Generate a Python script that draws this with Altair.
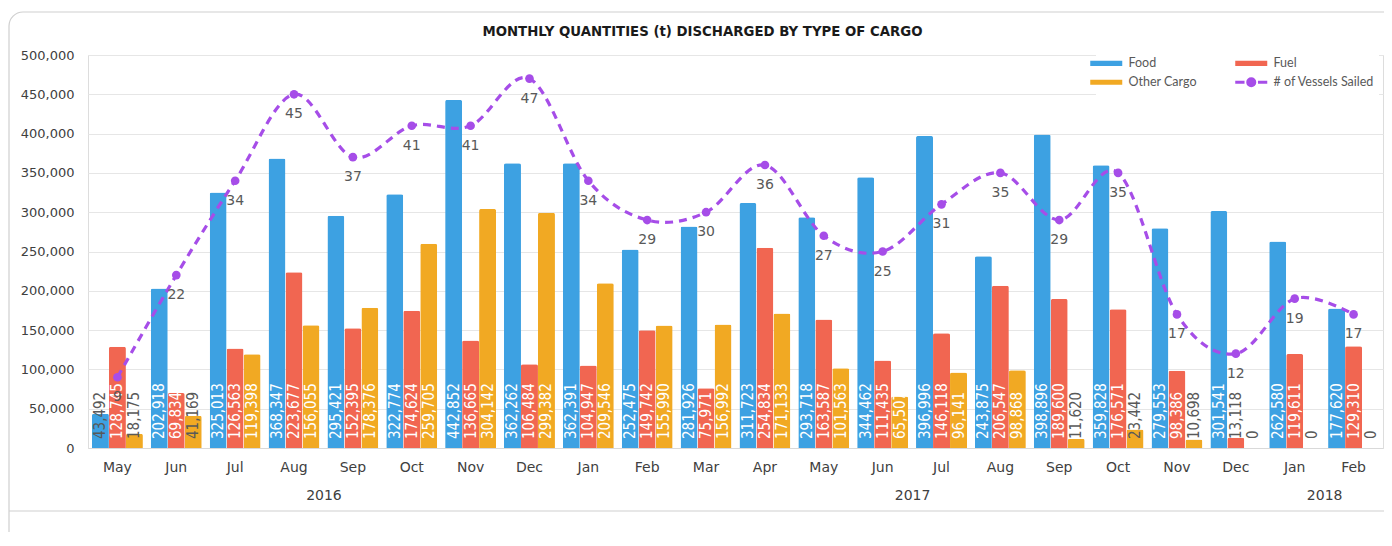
import altair as alt
import pandas as pd

# ---------------- data ----------------
months = ["May", "Jun", "Jul", "Aug", "Sep", "Oct", "Nov", "Dec",
          "Jan", "Feb", "Mar", "Apr", "May", "Jun", "Jul", "Aug", "Sep", "Oct", "Nov", "Dec",
          "Jan", "Feb"]
years = [2016] * 8 + [2017] * 12 + [2018] * 2
food = [43492, 202918, 325013, 368347, 295421, 322774, 442852, 362262,
        362391, 252475, 281926, 311723, 293718, 344462, 396996, 243875, 398896, 359828, 279553, 301541,
        262580, 177620]
fuel = [128745, 69834, 126563, 223677, 152395, 174624, 136665, 106484,
        104947, 149742, 75971, 254834, 163587, 111435, 146118, 206547, 189600, 176571, 98386, 13118,
        119611, 129310]
other = [18175, 41169, 119398, 156055, 178376, 259705, 304142, 299382,
         209546, 155990, 156992, 171133, 101563, 65507, 96141, 98868, 11620, 23442, 10698, 0,
         0, 0]
vessels = [9, 22, 34, 45, 37, 41, 41, 47,
           34, 29, 30, 36, 27, 25, 31, 35, 29, 35, 17, 12,
           19, 17]

cargo_types = ["Food", "Fuel", "Other Cargo"]
line_name = "# of Vessels Sailed"
series_colors = ["#3DA1E2", "#F16651", "#F1A923", "#A64DE8"]
y_ticks = list(range(0, 500001, 50000))
title_text = "MONTHLY QUANTITIES (t) DISCHARGED BY TYPE OF CARGO"

# ---------------- tables ----------------
keys = [f"{m} {y}" for m, y in zip(months, years)]
rows = []
for i, k in enumerate(keys):
    for t, vals in zip(cargo_types, [food, fuel, other]):
        v = vals[i]
        rows.append({"key": k, "cargo": t, "value": v, "zero": 0,
                     "label": f"{v:,}", "small": v < 50000})
bars_df = pd.DataFrame(rows)
line_df = pd.DataFrame({"key": keys, "vessels": vessels, "series": line_name})

year_names = []
centers = []
for y in sorted(set(years)):
    idx = [i for i, yy in enumerate(years) if yy == y]
    year_names.append(str(y))
    centers.append((idx[0] + idx[-1]) / 2 + 0.5)
year_df = pd.DataFrame({"year": year_names, "center": centers})

W, H = 1295, 393
FONT = "DejaVu Sans"
LABEL_FONT = "DejaVu Sans Condensed, Roboto Condensed, Liberation Sans Narrow, Noto Sans"
AXIS_COLOR = "#404040"

def xscale():
    return alt.Scale(domain=keys, paddingInner=0.134, paddingOuter=0.067)

color_scale = alt.Scale(domain=cargo_types + [line_name], range=series_colors)

RECT = "M-1,-0.16L1,-0.16L1,0.16L-1,0.16Z"
LINE = ("M-1,0L-0.42,0M0.42,0L1,0"
        "M-0.22,0A0.22,0.22,0,1,1,0.22,0A0.22,0.22,0,1,1,-0.22,0Z")
is_line = f"datum.value === '{line_name}'"

legend = alt.Legend(
    title=None, orient="none", direction="horizontal", legendX=1008, legendY=-2, columns=2,
    columnPadding=32, rowPadding=2, padding=4, fillColor="white",
    symbolSize=1024, labelFont="Lato", labelFontSize=12.5, labelColor="#595959",
    labelOffset=16,
    symbolType=alt.ExprRef(expr=f"{is_line} ? '{LINE}' : '{RECT}'"),
    symbolStrokeWidth=alt.ExprRef(expr=f"{is_line} ? 3 : 0"),
    symbolFillColor=alt.ExprRef(expr="scale('color', datum.value)"),
    symbolStrokeColor=alt.ExprRef(expr="scale('color', datum.value)"),
    symbolOpacity=1,
)

x_month = alt.X("key:N", sort=keys, scale=xscale(),
                axis=alt.Axis(title=None, labelExpr="split(datum.label, ' ')[0]",
                              labelAngle=0, labelFont=FONT, labelFontSize=14,
                              labelColor=AXIS_COLOR, labelPadding=12, ticks=False,
                              domainColor="#d9d9d9", orient="bottom"))
x_off = alt.XOffset("cargo:N", sort=cargo_types,
                    scale=alt.Scale(domain=cargo_types, paddingInner=0, paddingOuter=0))

y_axis = alt.Axis(title=None, values=y_ticks, labelExpr="format(datum.value, ',')", grid=True,
                  gridColor="#e6e6e6", domain=False, ticks=False,
                  labelFont=FONT, labelFontSize=13, labelColor=AXIS_COLOR, labelPadding=14)
y_scale = alt.Scale(domain=[0, 500000], nice=False)

bars = alt.Chart(bars_df).mark_bar(cornerRadiusTopLeft=2, cornerRadiusTopRight=2).encode(
    x=x_month,
    xOffset=x_off,
    y=alt.Y("value:Q", scale=y_scale, axis=y_axis),
    color=alt.Color("cargo:N", scale=color_scale, legend=legend),
)

bar_labels = alt.Chart(bars_df).mark_text(
    angle=270, align="left", baseline="middle", dx=9, font=LABEL_FONT, fontSize=15
).encode(
    x=x_month,
    xOffset=x_off,
    y=alt.Y("zero:Q", scale=y_scale, axis=y_axis),
    text="label:N",
    color=alt.condition(alt.datum.small, alt.value("#595959"), alt.value("white")),
)

bars_layer = alt.layer(bars, bar_labels)

x_line = alt.X("key:N", sort=keys, scale=xscale(), axis=None)
y_line = alt.Y("vessels:Q", scale=alt.Scale(domain=[0, 50], nice=False), axis=None)

line = alt.Chart(line_df).mark_line(interpolate="cardinal", strokeDash=[8, 6], strokeWidth=3.2).encode(
    x=x_line, y=y_line, color=alt.Color("series:N", scale=color_scale, legend=legend)
)
points = alt.Chart(line_df).mark_circle(size=75, opacity=1, color=series_colors[3]).encode(
    x=x_line, y=y_line
)
line_labels = alt.Chart(line_df).mark_text(dy=20, font=FONT, fontSize=14, color="#595959").encode(
    x=x_line, y=y_line, text="vessels:Q"
)
line_layer = alt.layer(line, points, line_labels)

year_expr = " : ".join(f"datum.value == {c} ? '{n}'" for c, n in zip(centers, year_names)) + " : ''"
years_layer = alt.Chart(year_df).mark_text(opacity=0).encode(
    x=alt.X("center:Q", scale=alt.Scale(domain=[0, len(keys)], nice=False, zero=False),
            axis=alt.Axis(title=None, values=centers, labelExpr=year_expr, grid=False,
                          domain=False, ticks=False, labelPadding=40, labelFlush=False,
                          labelFont=FONT, labelFontSize=14, labelColor=AXIS_COLOR,
                          orient="bottom")),
    text="year:N",
)

frame = alt.Chart(pd.DataFrame({"f": [0]})).mark_rect(
    fillOpacity=0, stroke="#cfcfcf", strokeWidth=1.2, cornerRadius=14
).encode(x=alt.value(-79), x2=alt.value(W + 40), y=alt.value(-43), y2=alt.value(H + 160))
sep = alt.Chart(pd.DataFrame({"f": [0]})).mark_rule(color="#cfcfcf", strokeWidth=1.2).encode(
    x=alt.value(-79), x2=alt.value(W + 40), y=alt.value(H + 63)
)

chart = alt.layer(bars_layer, line_layer, years_layer, frame, sep).resolve_scale(
    x="independent", y="independent"
).properties(
    width=W, height=H,
    autosize=alt.AutoSizeParams(type="none"),
    padding={"left": 80, "top": 47, "right": 1, "bottom": 84},
    title=alt.TitleParams(title_text, font=FONT, fontSize=13.3, fontWeight="bold",
                          color="#1a1a1a", anchor="middle", dx=-33, dy=27, offset=0),
).configure_view(stroke=None).configure(background="white")

chart.save("out.html", embed_options={"renderer": "svg", "actions": False})
